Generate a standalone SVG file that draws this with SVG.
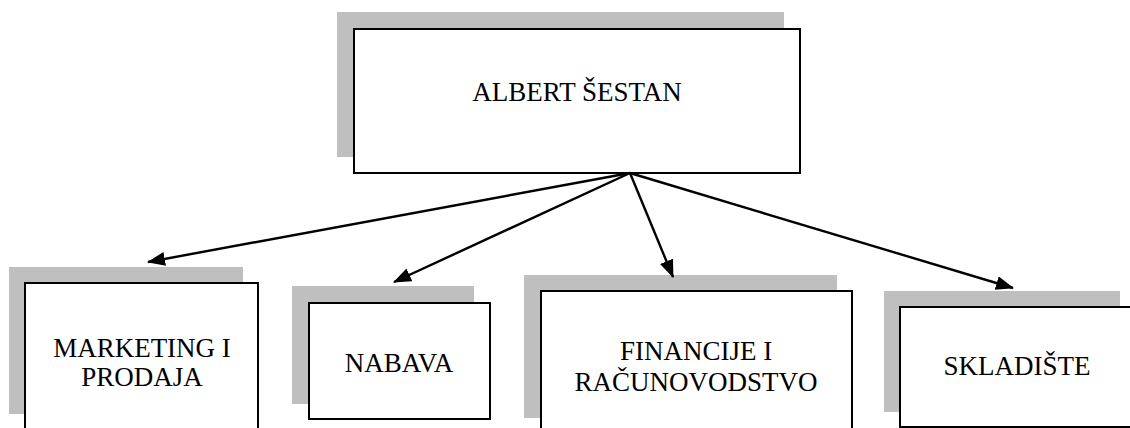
<svg xmlns="http://www.w3.org/2000/svg" width="1130" height="428" viewBox="0 0 1130 428">
<defs>
<style>
.shadow{fill:#bfbfbf;stroke:none}
.box{fill:#ffffff;stroke:#000000;stroke-width:2}
.conn{stroke:#000000;stroke-width:2.4;fill:none;marker-end:url(#arr)}
text{font-family:'Liberation Serif','Times New Roman',Times,serif;font-size:27px;fill:#000000;text-anchor:middle}
</style>
<marker id="arr" markerUnits="userSpaceOnUse" markerWidth="20" markerHeight="16" refX="17" refY="7" orient="auto">
<path d="M0,0 L18,7 L0,14 z" fill="#000000"/>
</marker>
</defs>
<rect width="1130" height="428" fill="#ffffff"/>
<g id="node-albert">
<rect class="shadow" x="337" y="12" width="447" height="145"/>
<rect class="box" x="354" y="29" width="446" height="144"/>
<text x="577" y="101">ALBERT ŠESTAN</text>
</g>
<g id="node-marketing">
<rect class="shadow" x="9" y="267" width="234" height="147"/>
<rect class="box" x="25" y="283" width="233" height="150"/>
<text x="142" y="357">MARKETING I</text>
<text x="142" y="386">PRODAJA</text>
</g>
<g id="node-nabava">
<rect class="shadow" x="292" y="286" width="182" height="118"/>
<rect class="box" x="309" y="303" width="181" height="116"/>
<text x="399" y="372">NABAVA</text>
</g>
<g id="node-financije">
<rect class="shadow" x="524" y="275" width="313" height="143"/>
<rect class="box" x="541" y="291" width="311" height="150"/>
<text x="696" y="360">FINANCIJE I</text>
<text x="696" y="391">RAČUNOVODSTVO</text>
</g>
<g id="node-skladiste">
<rect class="shadow" x="884" y="291" width="236" height="121"/>
<rect class="box" x="900" y="307" width="236" height="120"/>
<text x="1017" y="375">SKLADIŠTE</text>
</g>
<g id="connectors">
<line class="conn" x1="630" y1="173" x2="148" y2="262"/>
<line class="conn" x1="630" y1="173" x2="394" y2="282"/>
<line class="conn" x1="630" y1="173" x2="673" y2="277"/>
<line class="conn" x1="630" y1="173" x2="1013" y2="288"/>
</g>
</svg>
